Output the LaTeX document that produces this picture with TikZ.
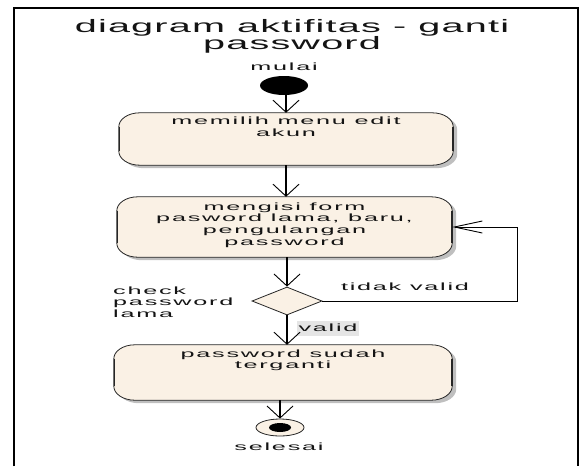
\documentclass[tikz,border=0pt]{standalone}
\usepackage{fontspec}
\setmainfont{Liberation Sans}
\newfontfamily\labelfont[LetterSpace=7]{Liberation Sans}
\newfontfamily\titlefont[LetterSpace=3]{Liberation Sans}
\usetikzlibrary{arrows.meta,shapes.geometric,shadows,calc}

\definecolor{actfill}{RGB}{250,241,229}
\definecolor{inkcol}{RGB}{20,20,20}

% wide label text (one or more lines)
\newcommand\wtext[2][c]{\scalebox{2.4}[1]{\labelfont\fontsize{10.5pt}{11.7pt}\selectfont
  \begin{tabular}[t]{@{}#1@{}}#2\end{tabular}}}
\newcommand\ttext[1]{\scalebox{2.2}[1]{\titlefont\fontsize{18pt}{15pt}\selectfont
  \begin{tabular}[t]{@{}c@{}}#1\end{tabular}}}

% activity outline with elliptic corners around a layout node
\newcommand\actoutline[1]{%
  \draw[line width=0.8pt, draw=black!85, fill=actfill,
        drop shadow={shadow xshift=4pt, shadow yshift=-3pt, fill=black, opacity=0.25}]
    ($(#1.north west)+(21,0)$) -- ($(#1.north east)+(-21,0)$)
    arc[start angle=90, end angle=0, x radius=21pt, y radius=14pt]
    -- ($(#1.south east)+(0,-14)$)
    arc[start angle=0, end angle=-90, x radius=21pt, y radius=14pt]
    -- ($(#1.south west)+(21,0)$)
    arc[start angle=270, end angle=180, x radius=21pt, y radius=14pt]
    -- ($(#1.north west)+(0,14)$)
    arc[start angle=180, end angle=90, x radius=21pt, y radius=14pt]
    -- cycle;
  \draw[line width=1.8pt, black!85]
    ($(#1.north west)+(0.6,14)$) -- ($(#1.south west)+(0.6,-14)$)
    ($(#1.north east)+(-0.6,14)$) -- ($(#1.south east)+(-0.6,-14)$);}

\tikzset{
  area/.style={rectangle, draw=none, inner sep=0pt},
  txt/.style={inner sep=0pt, anchor=base, text=inkcol},
  flow/.style={line width=1.7pt, -{Straight Barb[length=12pt, width=26pt, line width=0.9pt]}},
  back/.style={line width=1pt, -{Straight Barb[length=28pt, width=12pt, line width=0.9pt]}},
  startnode/.style={ellipse, fill=black, draw=none, minimum width=48pt, minimum height=19pt, inner sep=0pt},
  endring/.style={ellipse, fill=actfill, draw=black!85, line width=0.8pt, minimum width=48pt, minimum height=17pt, inner sep=0pt},
  enddot/.style={ellipse, fill=black, draw=none, minimum width=22pt, minimum height=9pt, inner sep=0pt},
  choice/.style={diamond, aspect=2.5, fill=actfill, draw=black!85, line width=0.8pt, minimum width=70pt, minimum height=28pt, inner sep=0pt},
}

\begin{document}
\begin{tikzpicture}[x=1pt, y=-1pt]
  \fill[white] (0,0) rectangle (588,466);
  \useasboundingbox (0,0) rectangle (588,466);

  % frame of the diagram
  \draw[line width=1.4pt] (14,466) -- (14,8) -- (578,8) -- (578,466);
  \draw[line width=2.6pt] (14,466) -- (14,8);

  % title
  \node[txt] (title) at (292,32) {\ttext{diagram aktifitas - ganti\\password}};

  % start
  \node[txt] (mulai) at (284,70) {\wtext{mulai}};
  \node[startnode] (s) at (284,85.5) {};

  % activities (layout areas)
  \node[area, minimum width=334pt, minimum height=52pt] (b1) at (286,139) {};
  \node[area, minimum width=335pt, minimum height=60pt] (b2) at (284.5,227) {};
  \node[area, minimum width=338pt, minimum height=55pt] (b3) at (283,372.5) {};
  \actoutline{b1}
  \actoutline{b2}
  \actoutline{b3}

  \node[txt] (t1) at (286,124.5) {\wtext{memilih menu edit\\akun}};
  \node[txt] (t2) at (284.5,210) {\wtext{mengisi form\\pasword lama, baru,\\pengulangan\\password}};
  \node[txt] (t3) at (283,357) {\wtext{password sudah\\terganti}};

  % decision
  \node[choice] (d) at (287,301) {};
  \node[txt, anchor=base west] (chk) at (113,294) {\wtext[l]{check\\password\\lama}};
  \node[txt] (tv) at (405,290) {\wtext{tidak valid}};
  \node[txt, fill=black!10, inner xsep=2pt, inner ysep=1.5pt] (vl) at (328,331) {\wtext{valid}};

  % end
  \node[endring] (e) at (280,427.5) {};
  \node[enddot] (ed) at (e.center) {};
  \node[txt] (selesai) at (279,450) {\wtext{selesai}};

  % return path
  \coordinate (lp) at (517,227);

  % connectors
  \draw[flow] (s.south -| b1.north) -- (b1.north);
  \draw[flow] (b1.south) -- (b1.south |- b2.north);
  \draw[flow] (b2.south -| d.north) -- (d.north);
  \draw[flow] (d.south) -- (d.south |- b3.north);
  \draw[flow] (b3.south -| e.north) -- (e.north);
  \draw[back] (d.east) -| (lp) -- (b2.east);
\end{tikzpicture}
\end{document}
